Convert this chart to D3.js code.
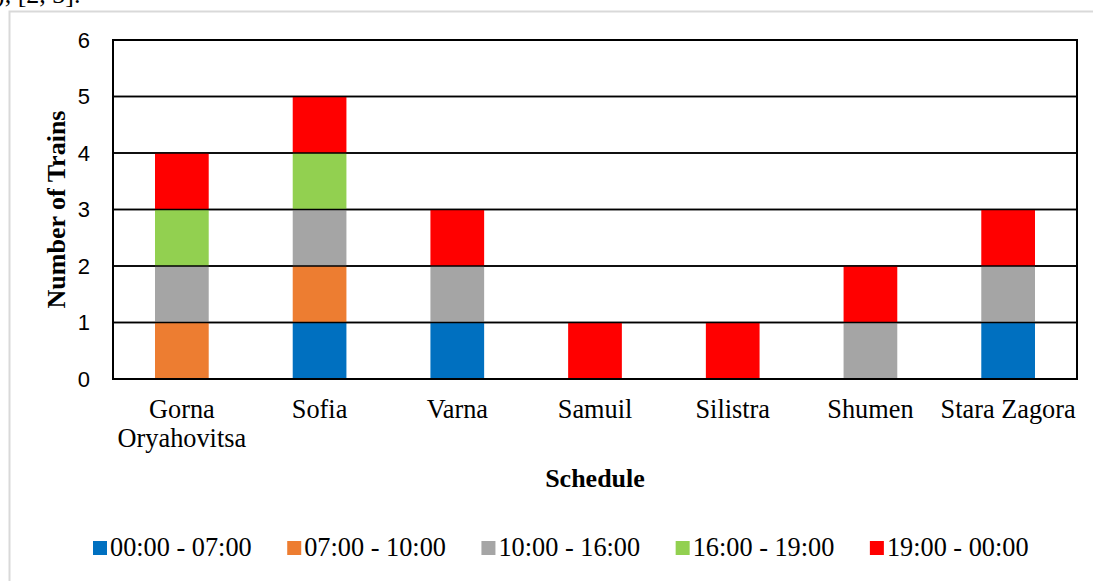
<!DOCTYPE html>
<html>
<head>
<meta charset="utf-8">
<script src="https://cdn.jsdelivr.net/npm/d3@7"></script>
<style>
  html, body { margin: 0; padding: 0; background: #fff; overflow: hidden; }
  svg { display: block; }
</style>
</head>
<body>
<svg id="chart" width="1093" height="581"></svg>
<script>
// ---- data ----
const categories = ["Gorna Oryahovitsa", "Sofia", "Varna", "Samuil", "Silistra", "Shumen", "Stara Zagora"];
const seriesNames = ["00:00 - 07:00", "07:00 - 10:00", "10:00 - 16:00", "16:00 - 19:00", "19:00 - 00:00"];
const s0000_0700 = [0, 1, 1, 0, 0, 0, 1];
const s0700_1000 = [1, 1, 0, 0, 0, 0, 0];
const s1000_1600 = [1, 1, 1, 0, 0, 1, 1];
const s1600_1900 = [1, 1, 0, 0, 0, 0, 0];
const s1900_0000 = [1, 1, 1, 1, 1, 1, 1];
const yTicks = [0, 1, 2, 3, 4, 5, 6];
const colors = ["#0070C0", "#ED7D31", "#A5A5A5", "#92D050", "#FF0000"];

const seriesValues = [s0000_0700, s0700_1000, s1000_1600, s1600_1900, s1900_0000];
const table = categories.map((c, i) => {
  const row = { cat: c };
  seriesNames.forEach((s, j) => row[s] = seriesValues[j][i]);
  return row;
});

const svg = d3.select("#chart");
const serif = "'Liberation Serif', 'Times New Roman', Times, serif";

// top cut-off caption text
svg.append("text").attr("x", -4).attr("y", 3)
  .style("font-family", serif).style("font-size", "26px").attr("fill", "#000")
  .text("), [2, 3].");

// outer light border
svg.append("rect").attr("x", 9.5).attr("y", 11.5).attr("width", 1200).attr("height", 700)
  .attr("fill", "none").attr("stroke", "#d9d9d9").attr("stroke-width", 2);

const margin = { left: 113, right: 1077, top: 40, bottom: 379 };
const x = d3.scaleBand().domain(categories).range([margin.left, margin.right]).paddingInner(0.61).paddingOuter(0.305);
const y = d3.scaleLinear().domain([0, 6]).range([margin.bottom, margin.top]);

// gridlines
svg.append("g").selectAll("line").data(yTicks).join("line")
  .attr("x1", margin.left).attr("x2", margin.right)
  .attr("y1", d => y(d)).attr("y2", d => y(d))
  .attr("stroke", "#000").attr("stroke-width", 1.5);

// stacked bars
const stack = d3.stack().keys(seriesNames)(table);
svg.append("g").selectAll("g").data(stack).join("g")
  .attr("fill", (d, i) => colors[i])
  .selectAll("rect").data(d => d.filter(p => p[1] - p[0] > 0)).join("rect")
  .attr("x", d => x(d.data.cat))
  .attr("width", x.bandwidth())
  .attr("y", d => y(d[1]))
  .attr("height", d => y(d[0]) - y(d[1]));

// gridlines over bars
svg.append("g").selectAll("line").data(yTicks.filter(t => t > 0 && t < 6)).join("line")
  .attr("x1", margin.left).attr("x2", margin.right)
  .attr("y1", d => y(d)).attr("y2", d => y(d))
  .attr("stroke", "#000").attr("stroke-width", 1.5);

// plot frame
svg.append("rect").attr("x", margin.left).attr("y", margin.top)
  .attr("width", margin.right - margin.left).attr("height", margin.bottom - margin.top)
  .attr("fill", "none").attr("stroke", "#000").attr("stroke-width", 2);

// y axis labels
svg.append("g").selectAll("text").data(yTicks).join("text")
  .attr("x", 90).attr("y", d => y(d)).attr("dy", "0.36em")
  .attr("text-anchor", "end")
  .attr("font-family", "'Liberation Sans', Arial, sans-serif")
  .attr("font-size", 22)
  .style("font-size", "22px")
  .attr("fill", "#000")
  .text(d => d3.format("d")(d));

// x axis labels (with wrapping)
const xAxis = d3.axisBottom(x).tickSize(0).tickFormat("");
const gx = svg.append("g").attr("transform", `translate(0,${margin.bottom})`).call(xAxis);
gx.select(".domain").remove();
gx.selectAll(".tick").each(function(d) {
  const words = d === "Gorna Oryahovitsa" ? ["Gorna", "Oryahovitsa"] : [d];
  const t = d3.select(this).append("text")
    .style("font-family", serif).style("font-size", "26.3px").attr("fill", "#000")
    .attr("text-anchor", "middle");
  words.forEach((w, i) => t.append("tspan").attr("x", 0).attr("y", 39 + i * 29).text(w));
});

// axis titles
svg.append("text").attr("x", (margin.left + margin.right) / 2).attr("y", 487)
  .attr("text-anchor", "middle").style("font-family", serif).attr("font-weight", "bold")
  .style("font-size", "26px").attr("fill", "#000").text("Schedule");
svg.append("text").attr("transform", `translate(65,${(margin.top + margin.bottom) / 2}) rotate(-90)`)
  .attr("text-anchor", "middle").style("font-family", serif).attr("font-weight", "bold")
  .style("font-size", "26px").attr("fill", "#000").text("Number of Trains");

// legend
const legend = svg.append("g");
let lx = 93;
seriesNames.forEach((s, i) => {
  const g = legend.append("g").attr("transform", `translate(${lx},0)`);
  g.append("rect").attr("x", 0).attr("y", 541).attr("width", 14).attr("height", 14).attr("fill", colors[i]);
  const t = g.append("text").attr("x", 17).attr("y", 556)
    .style("font-family", serif).style("font-size", "26.3px").attr("fill", "#000").text(s);
  lx += 17 + t.node().getComputedTextLength() + 35.5;
});
</script>
</body>
</html>
